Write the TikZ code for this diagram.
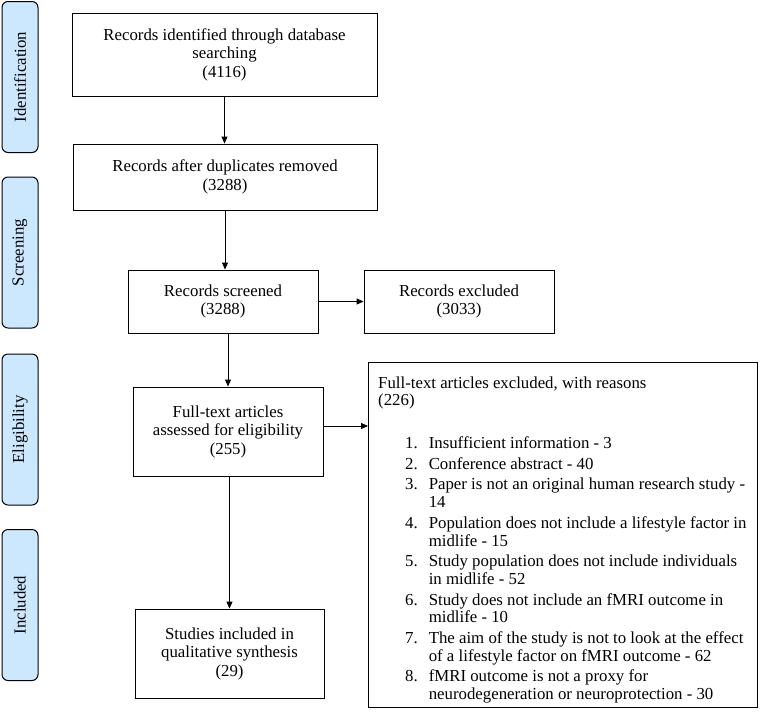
\documentclass[tikz,border=0pt]{standalone}
\usepackage{fontspec}
\setmainfont{Liberation Serif}
\usetikzlibrary{arrows.meta}
\definecolor{stageblue}{RGB}{204,232,255}
\begin{document}
\begin{tikzpicture}[x=1pt, y=-1pt, >={Triangle[length=7pt,width=6pt]},
	every node/.style={font=\fontsize{16.8}{18.5}\selectfont},
	box/.style={draw, line width=0.9pt, align=center, inner sep=0pt},
	stage/.style={draw, fill=stageblue, rounded corners=6pt, line width=1pt, minimum width=151pt, minimum height=36pt, inner sep=0pt, rotate=90}]
			\useasboundingbox (0,0) rectangle (762,713);
			% stages on the left
			\node[stage] (ident) at (20,77) {Identification};
			\node[stage] (screen) at (20,252.5) {Screening};
			\node[stage] (elig) at (20,429.5) {Eligibility};
			\node[stage] (incl) at (20,605) {Included};
			% flow boxes
			\node[box, minimum width=305pt, minimum height=83pt] (found) at (224.5,54.5) {Records identified through database\\searching\\(4116)};
			\node[box, minimum width=304pt, minimum height=66pt] (dedup) at (225,177) {Records after duplicates removed\\(3288)};
			\node[box, minimum width=190pt, minimum height=63pt] (scr) at (223,301.5) {Records screened\\(3288)};
			\node[box, minimum width=190pt, minimum height=63pt] (scrout) at (459,301.5) {Records excluded\\(3033)};
			\node[box, minimum width=190pt, minimum height=89pt] (full) at (228,431.5) {Full-text articles\\assessed for eligibility\\(255)};
			\node[box, minimum width=389pt, minimum height=345pt, anchor=north west] (fullout) at (368,362) {};
			\node[anchor=north west, inner sep=0pt, font=\fontsize{16.8}{17.7}\selectfont] (reasons) at (378,375.5) {%
				\begin{tabular}{@{\hspace{27pt}}r@{\hspace{11pt}}l@{}}
				\multicolumn{2}{@{}l@{}}{Full-text articles excluded, with reasons}\\
				\multicolumn{2}{@{}l@{}}{(226)}\\[25pt]
				1. & Insufficient information - 3\\[3pt]
				2. & Conference abstract - 40\\[3pt]
				3. & Paper is not an original human research study -\\
				   & 14\\[3pt]
				4. & Population does not include a lifestyle factor in\\
				   & midlife - 15\\[3pt]
				5. & Study population does not include individuals\\
				   & in midlife - 52\\[3pt]
				6. & Study does not include an fMRI outcome in\\
				   & midlife - 10\\[3pt]
				7. & The aim of the study is not to look at the effect\\
				   & of a lifestyle factor on fMRI outcome - 62\\[3pt]
				8. & fMRI outcome is not a proxy for\\
				   & neurodegeneration or neuroprotection - 30
				\end{tabular}};
			\node[box, minimum width=189pt, minimum height=89pt] (synth) at (229.5,653.5) {Studies included in\\qualitative synthesis\\(29)};
			% arrows
			\draw[->, line width=0.9pt] (found.south) -- (found.south |- dedup.north);
			\draw[->, line width=0.9pt] (dedup.south) -- (dedup.south |- scr.north);
			\draw[->, line width=0.9pt] (scr.east) -- (scrout.west);
			\draw[->, line width=0.9pt] (scr.south -| full.north) -- (full.north);
			\draw[->, line width=0.9pt] ([yshift=5.5pt]full.east) -- ([yshift=5.5pt]full.east -| fullout.west);
			\draw[->, line width=0.9pt] (full.south -| synth.north) -- (synth.north);
\end{tikzpicture}
\end{document}
